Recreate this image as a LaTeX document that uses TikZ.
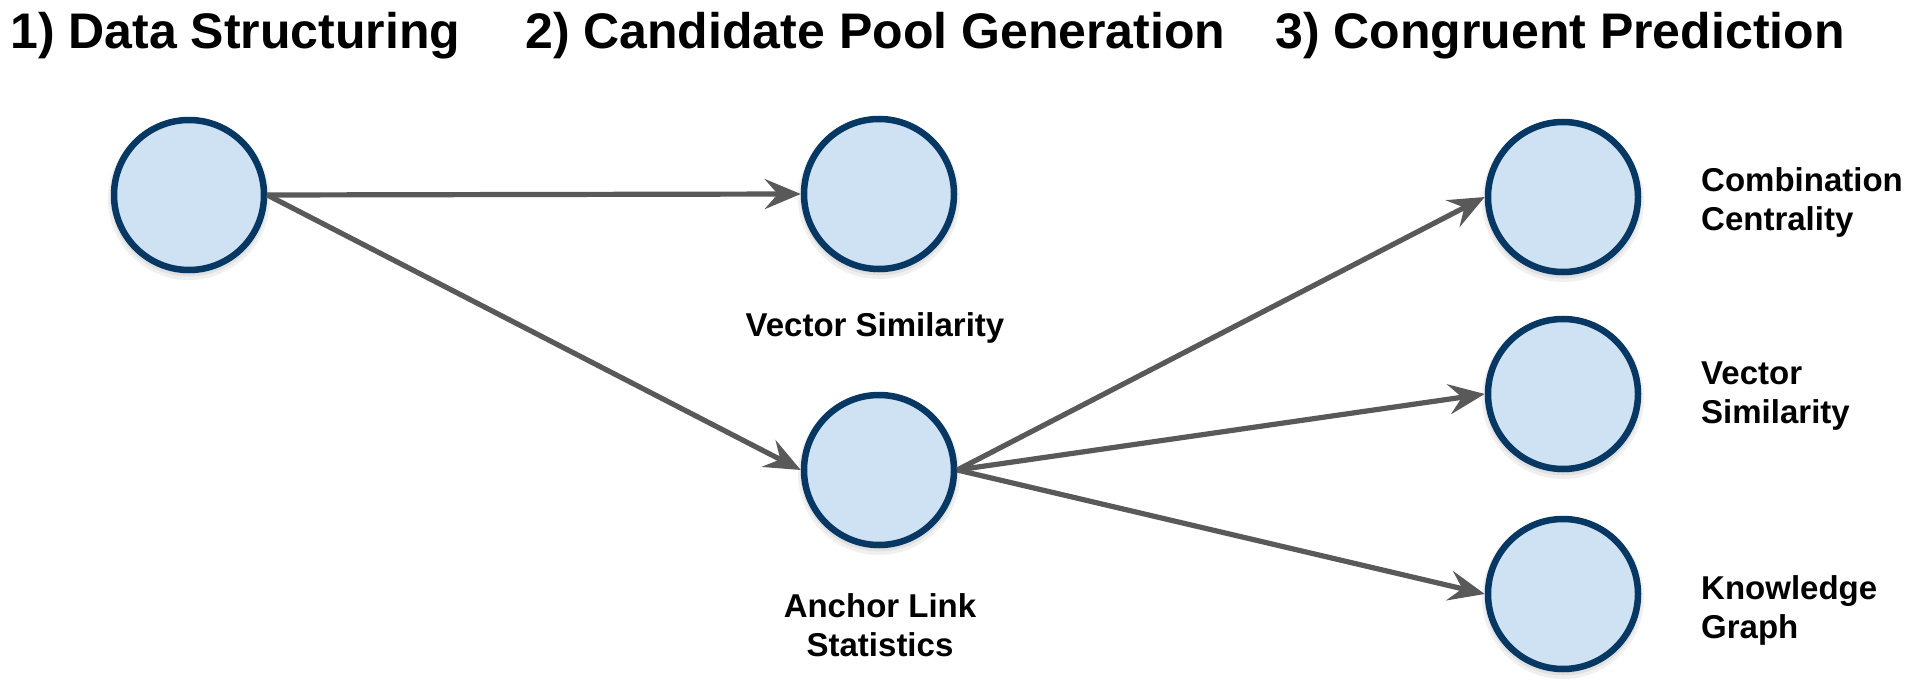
\documentclass[tikz,border=0pt]{standalone}
\usepackage{fontspec}
\setmainfont{Liberation Sans}
\usetikzlibrary{arrows.meta}
\definecolor{nodefill}{HTML}{CFE2F3}
\definecolor{nodeline}{HTML}{073763}
\definecolor{arrowgray}{HTML}{595959}
\begin{document}
\begin{tikzpicture}[x=1pt,y=-1pt,
  circ/.style={circle, draw=nodeline, line width=6.5pt, fill=nodefill,
    minimum size=150pt, inner sep=0pt,
    preaction={draw=black, draw opacity=0.06, fill=black, fill opacity=0.06,
      line width=12pt, transform canvas={yshift=-4pt}},
    preaction={draw=black, draw opacity=0.06, fill=black, fill opacity=0.06,
      line width=7pt, transform canvas={yshift=-3pt}}},
  flow/.style={draw=arrowgray, line width=5.2pt,
    -{Stealth[length=36pt,width=30pt,inset=13pt]}},
  title/.style={font=\fontsize{50}{60}\selectfont\bfseries, anchor=base west, inner sep=0pt},
  lbl/.style={font=\fontsize{33}{39}\selectfont\bfseries, inner sep=0pt}]
\fill[white] (0,0) rectangle (1923,695);
\useasboundingbox (0,0) rectangle (1923,695);

\node[title] (t1) at (10,49) {1) Data Structuring};
\node[title] (t2) at (525,49) {2) Candidate Pool Generation};
\node[title] (t3) at (1275,49) {3) Congruent Prediction};

\node[circ] (A) at (189,195) {};
\node[circ] (B) at (879,194) {};
\node[circ] (C) at (879,470) {};
\node[circ] (D) at (1563,197) {};
\node[circ] (E) at (1563,394) {};
\node[circ] (F) at (1563,594) {};

\draw[flow] (A.east) -- (B.west);
\draw[flow] (A.east) -- (C.west);
\draw[flow] (C.east) -- (D.west);
\draw[flow] (C.east) -- (E.west);
\draw[flow] (C.east) -- (F.west);

\node[lbl, anchor=base] (lB) at (875,336) {Vector Similarity};
\node[lbl, anchor=base, align=center] (lC) at (880,656) {Anchor Link\\Statistics};
\node[lbl, anchor=base west, align=left] (lD) at (1701,231) {Combination\\Centrality};
\node[lbl, anchor=base west, align=left] (lE) at (1701,423) {Vector\\Similarity};
\node[lbl, anchor=base west, align=left] (lF) at (1701,638) {Knowledge\\Graph};
\end{tikzpicture}
\end{document}
